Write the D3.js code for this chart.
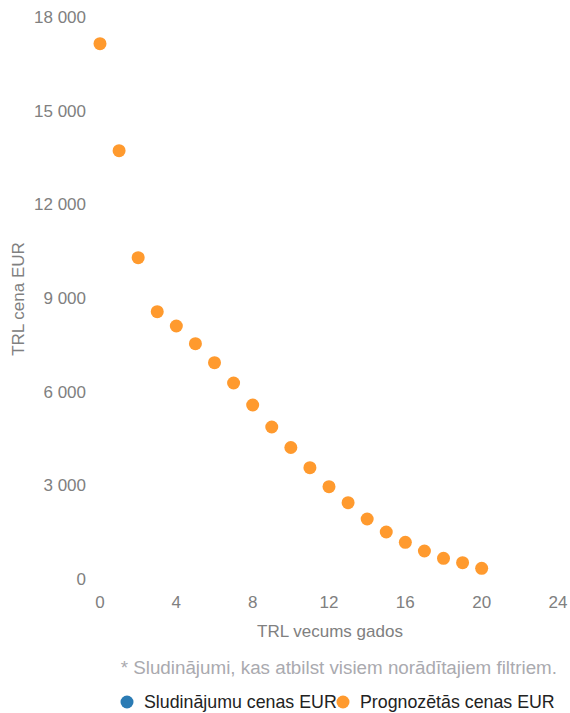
<!DOCTYPE html>
<html>
<head>
<meta charset="utf-8">
<script src="https://cdn.jsdelivr.net/npm/d3@7"></script>
<style>
  body { margin: 0; background: #fff; }
  svg text { font-family: "Liberation Sans", Arial, sans-serif; }
</style>
</head>
<body>
<div id="chart"></div>
<script>
// vehicle age (years) and predicted price
var ages = [0, 1, 2, 3, 4, 5, 6, 7, 8, 9, 10, 11, 12, 13, 14, 15, 16, 17, 18, 19, 20];
var predicted = [17145, 13718, 10291, 8561, 8103, 7536, 6928, 6278, 5573, 4868, 4212,
                 3565, 2956, 2444, 1922, 1505, 1175, 897, 663, 522, 343];
var listings = [];  // no listing prices shown

var xTicks = [0, 4, 8, 12, 16, 20, 24];
var yTicks = [0, 3000, 6000, 9000, 12000, 15000, 18000];
var legendLabels = ["Sludinājumu cenas EUR", "Prognozētās cenas EUR"];
var legendColors = ["#2b7bb4", "#ff9a2e"];

var width = 570, height = 713;

var svg = d3.select("#chart").append("svg")
    .attr("width", width)
    .attr("height", height);

var x = d3.scaleLinear().domain([0, 24]).range([100, 558]);
var y = d3.scaleLinear().domain([0, 18000]).range([579, 17]);

var fmt = function(d) { return d3.format(",")(d).replace(/,/g, " "); };

// y tick labels
svg.append("g").selectAll("text")
  .data(yTicks)
  .enter().append("text")
    .attr("x", 86)
    .attr("y", function(d) { return y(d); })
    .attr("dy", "0.35em")
    .attr("text-anchor", "end")
    .attr("font-size", 17)
    .attr("fill", "#808080")
    .text(fmt);

// x tick labels
svg.append("g").selectAll("text")
  .data(xTicks)
  .enter().append("text")
    .attr("x", function(d) { return x(d); })
    .attr("y", 602)
    .attr("dy", "0.35em")
    .attr("text-anchor", "middle")
    .attr("font-size", 17)
    .attr("fill", "#808080")
    .text(function(d) { return d; });

// axis titles
svg.append("text")
    .attr("transform", "translate(18,299) rotate(-90)")
    .attr("dy", "0.35em")
    .attr("text-anchor", "middle")
    .attr("font-size", 17)
    .attr("fill", "#808080")
    .text("TRL cena EUR");

svg.append("text")
    .attr("x", 330)
    .attr("y", 631)
    .attr("dy", "0.35em")
    .attr("text-anchor", "middle")
    .attr("font-size", 17)
    .attr("fill", "#808080")
    .text("TRL vecums gados");

// points
svg.append("g").selectAll("circle")
  .data(ages)
  .enter().append("circle")
    .attr("cx", function(d) { return x(d); })
    .attr("cy", function(d, i) { return y(predicted[i]); })
    .attr("r", 6.5)
    .attr("fill", legendColors[1]);

// footnote
svg.append("text")
    .attr("x", 557)
    .attr("y", 667)
    .attr("dy", "0.35em")
    .attr("text-anchor", "end")
    .attr("font-size", 18.8)
    .attr("fill", "#aaaaaf")
    .text("* Sludinājumi, kas atbilst visiem norādītajiem filtriem.");

// legend
var legendX = [127, 343];
var lg = svg.append("g").selectAll("g")
  .data(legendLabels)
  .enter().append("g")
    .attr("transform", function(d, i) { return "translate(" + legendX[i] + ",702)"; });
lg.append("circle")
    .attr("r", 6.5)
    .attr("fill", function(d, i) { return legendColors[i]; });
lg.append("text")
    .attr("x", 17)
    .attr("dy", "0.35em")
    .attr("font-size", 17.8)
    .attr("fill", "#222")
    .text(function(d) { return d; });
</script>
</body>
</html>
